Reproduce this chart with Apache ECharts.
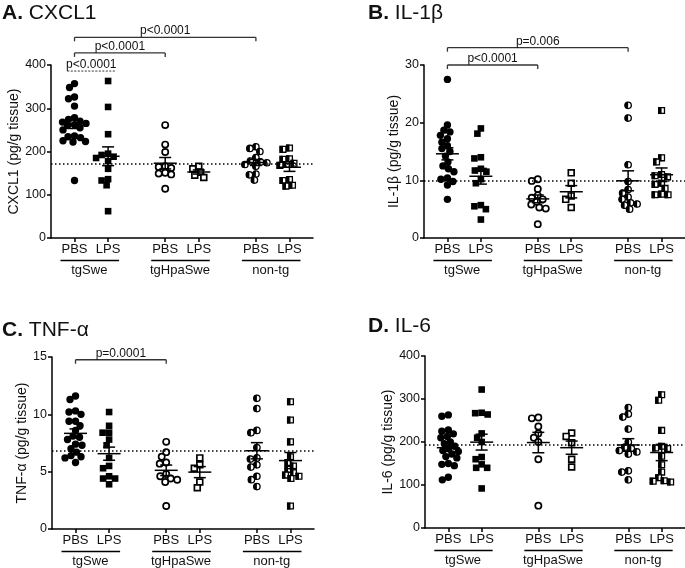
<!DOCTYPE html>
<html>
<head>
<meta charset="utf-8">
<script src="https://cdn.jsdelivr.net/npm/echarts@6/dist/echarts.min.js"></script>
<style>html,body{margin:0;padding:0;background:#fff;}#c{width:685px;height:568px;}</style>
</head>
<body>
<div id="c"></div>
<script>
// ---------- DATA ----------
const categories = ['PBS', 'LPS'];
const groups = ['tgSwe', 'tgHpaSwe', 'non-tg'];
const panelTitles = [['A.', 'CXCL1'], ['B.', 'IL-1β'], ['C.', 'TNF-α'], ['D.', 'IL-6']];
const yNames = ['CXCL1 (pg/g tissue)', 'IL-1β (pg/g tissue)', 'TNF-α (pg/g tissue)', 'IL-6 (pg/g tissue)'];
const yMaxes = [400, 30, 15, 400];
const yIntervals = [100, 10, 5, 100];
// order of groups: tgSwe PBS, tgSwe LPS, tgHpaSwe PBS, tgHpaSwe LPS, non-tg PBS, non-tg LPS
const cxcl1 = [
  [357, 348, 326, 322, 305, 278, 274, 270, 268, 265, 262, 260, 255, 250, 236, 234, 232, 225, 223, 222, 133],
  [363, 303, 240, 195, 192, 188, 185, 178, 160, 136, 133, 122, 62],
  [261, 216, 199, 166, 164, 162, 151, 149, 147, 114],
  [166, 160, 152, 145, 140],
  [211, 207, 200, 186, 178, 176, 174, 170, 166, 148, 146, 134],
  [208, 205, 183, 182, 173, 170, 168, 135, 133, 122, 120]
];
const il1b = [
  [27.5, 19.6, 18.7, 18.4, 17.8, 17.2, 16.6, 16.0, 15.5, 15.0, 14.2, 13.2, 12.5, 12.0, 11.5, 10.4, 10.2, 9.8, 9.2, 6.7],
  [19.0, 18.1, 14.0, 13.8, 12.0, 11.7, 11.5, 10.2, 9.5, 5.7, 5.5, 5.0, 3.2],
  [10.2, 9.9, 8.5, 7.4, 7.0, 6.7, 6.3, 5.8, 5.3, 5.1, 2.4],
  [11.3, 9.5, 7.3, 6.7, 5.3],
  [23.0, 20.8, 12.7, 9.8, 8.4, 7.8, 7.1, 6.7, 6.1, 5.9, 5.7, 5.0],
  [22.1, 13.9, 13.2, 11.0, 10.8, 10.6, 9.5, 9.3, 8.6, 7.6, 7.5, 7.5]
];
const tnfa = [
  [11.6, 11.3, 10.3, 10.2, 10.0, 9.4, 9.4, 9.0, 8.6, 8.1, 8.0, 7.8, 7.4, 7.3, 7.0, 6.7, 6.4, 6.3, 6.2, 5.8],
  [10.2, 9.0, 8.4, 8.4, 7.8, 7.3, 6.2, 5.5, 5.3, 4.6, 4.4, 4.4, 3.9],
  [7.6, 6.7, 6.3, 5.8, 5.7, 4.8, 4.6, 4.4, 4.3, 4.1, 2.0],
  [6.2, 5.6, 5.3, 4.1, 3.6],
  [11.4, 10.5, 8.6, 8.4, 7.1, 6.2, 6.1, 5.6, 5.4, 4.6, 4.3, 3.7],
  [11.1, 9.5, 7.6, 6.3, 5.8, 5.5, 5.2, 4.9, 4.7, 4.6, 4.4, 2.0]
];
const il6 = [
  [263, 260, 228, 225, 219, 213, 210, 200, 196, 190, 185, 180, 178, 172, 166, 163, 150, 148, 145, 118, 112],
  [322, 268, 267, 264, 220, 210, 200, 165, 160, 148, 140, 140, 92],
  [257, 255, 236, 220, 210, 200, 160, 52],
  [221, 213, 198, 160, 142],
  [280, 265, 258, 230, 200, 188, 185, 180, 177, 172, 133, 130, 112],
  [310, 297, 227, 190, 186, 185, 167, 147, 130, 117, 110, 109, 107]
];
const panelData = [cxcl1, il1b, tnfa, il6];
const refLines = [171, 10, 6.82, 193];
// significance brackets: [fromGroup, toGroup, yValue, label, dashedUnderline]
const bracketsA = [[0, 1, 386, 'p<0.0001', true], [0, 2, 428, 'p<0.0001', false], [0, 4, 464, 'p<0.0001', false]];
const bracketsB = [[0, 2, 30.0, 'p<0.0001', false], [0, 4, 33.0, 'p=0.006', false]];
const bracketsC = [[0, 2, 14.76, 'p=0.0001', false]];
const bracketsD = [];
const panelBrackets = [bracketsA, bracketsB, bracketsC, bracketsD];

// ---------- LAYOUT / STYLE ----------
const FONT = '"Liberation Sans", Arial, Helvetica, sans-serif';
const INK = '#111';
const XPOS = [0.7, 1.7, 3.4, 4.4, 6.1, 7.1];
const XMAX = 7.8;
const grids = [
  { left: 51, top: 65, width: 262, height: 173 },
  { left: 424, top: 65, width: 262, height: 173 },
  { left: 52, top: 357, width: 262, height: 172 },
  { left: 425, top: 356, width: 262, height: 172 }
];
const nameGaps = [28, 20, 20, 22];
const titlePos = [[2, 3], [368, 3], [2, 320], [368, 316]];
const MARKERS = ['circle', 'square', 'openCircle', 'openSquare', 'halfCircle', 'halfSquare'];
const DIAM = 7.0;      // drawn marker size
const SPACING = 6.2;   // collision distance for the scatter spread
const MAXOFF = 13;     // max horizontal spread (px) from the group centre

function mean(a) { return a.reduce((s, v) => s + v, 0) / a.length; }
function sem(a) {
  const m = mean(a);
  const sd = Math.sqrt(a.reduce((s, v) => s + (v - m) * (v - m), 0) / (a.length - 1));
  return sd / Math.sqrt(a.length);
}

function swarm(pys, d) {
  const idx = pys.map((_, i) => i).sort((a, b) => pys[a] - pys[b]);
  const offs = new Array(pys.length).fill(0);
  const placed = [];
  idx.forEach(i => {
    let best = 0, bestScore = -1, found = false;
    for (let k = 0; k <= MAXOFF * 4; k++) {
      const dx = (k % 2 === 0 ? 1 : -1) * Math.ceil(k / 2) * 0.5;
      let minD = Infinity;
      for (const j of placed) {
        const ddx = dx - offs[j], ddy = pys[i] - pys[j];
        minD = Math.min(minD, Math.sqrt(ddx * ddx + ddy * ddy));
      }
      if (minD >= d) { best = dx; found = true; break; }
      if (minD > bestScore) { bestScore = minD; best = dx; }
    }
    offs[i] = best;
    placed.push(i);
  });
  return offs;
}

function marker(kind, x, y) {
  const r = DIAM / 2;
  const lw = 1.7;
  switch (kind) {
    case 'circle':
      return { type: 'circle', shape: { cx: x, cy: y, r: r + 0.2 }, style: { fill: '#000' } };
    case 'square':
      return { type: 'rect', shape: { x: x - r + 0.2, y: y - r + 0.2, width: 2 * r - 0.4, height: 2 * r - 0.4 }, style: { fill: '#000' } };
    case 'openCircle':
      return { type: 'circle', shape: { cx: x, cy: y, r: r - 0.4 }, style: { fill: '#fff', stroke: '#000', lineWidth: lw } };
    case 'openSquare':
      return { type: 'rect', shape: { x: x - r + 0.6, y: y - r + 0.6, width: 2 * r - 1.2, height: 2 * r - 1.2 }, style: { fill: '#fff', stroke: '#000', lineWidth: lw } };
    case 'halfCircle':
      return { type: 'group', children: [
        { type: 'circle', shape: { cx: x, cy: y, r: r - 0.3 }, style: { fill: '#fff', stroke: '#000', lineWidth: 1.3 } },
        { type: 'sector', shape: { cx: x, cy: y, r0: 0, r: r, startAngle: Math.PI / 2, endAngle: Math.PI * 1.5, clockwise: true }, style: { fill: '#000' } }
      ] };
    default:
      return { type: 'group', children: [
        { type: 'rect', shape: { x: x - r + 0.6, y: y - r + 0.6, width: 2 * r - 1.2, height: 2 * r - 1.2 }, style: { fill: '#fff', stroke: '#000', lineWidth: 1.3 } },
        { type: 'rect', shape: { x: x - r, y: y - r, width: r, height: 2 * r }, style: { fill: '#000' } }
      ] };
  }
}

const swarmCache = {};
const option = {
  backgroundColor: '#fff',
  animation: false,
  title: [], grid: [], xAxis: [], yAxis: [], series: []
};

panelData.forEach((pdata, p) => {
  const g = grids[p];
  option.grid.push({ left: g.left, top: g.top, width: g.width, height: g.height });
  option.title.push({
    text: '{b|' + panelTitles[p][0] + '} ' + panelTitles[p][1],
    left: titlePos[p][0], top: titlePos[p][1], padding: 0,
    textStyle: { fontFamily: FONT, fontSize: 21, fontWeight: 'normal', color: INK,
      rich: { b: { fontFamily: FONT, fontSize: 21, fontWeight: 'bold', color: INK } } }
  });
  option.xAxis.push({
    gridIndex: p, type: 'value', min: 0, max: XMAX,
    axisLine: { show: true, onZero: false, lineStyle: { color: '#000', width: 1.5 } },
    axisTick: { show: true, length: 4, customValues: XPOS, lineStyle: { color: '#000', width: 1.5 } },
    axisLabel: { customValues: XPOS, fontFamily: FONT, fontSize: 13, color: INK, margin: 5,
      formatter: v => { const i = XPOS.findIndex(q => Math.abs(q - v) < 1e-6); return i < 0 ? '' : categories[i % 2]; } },
    splitLine: { show: false }
  });
  option.yAxis.push({
    gridIndex: p, type: 'value', min: 0, max: yMaxes[p], interval: yIntervals[p],
    name: yNames[p], nameLocation: 'middle', nameGap: nameGaps[p],
    nameTextStyle: { fontFamily: FONT, fontSize: 14, color: INK },
    axisLine: { show: true, lineStyle: { color: '#000', width: 1.5 } },
    axisTick: { show: true, length: 4, lineStyle: { color: '#000', width: 1.5 } },
    axisLabel: { fontFamily: FONT, fontSize: 12.5, color: INK, margin: 5 },
    splitLine: { show: false }
  });

  // points
  pdata.forEach((vals, gi) => {
    const key = p + '_' + gi;
    const kind = MARKERS[gi];
    option.series.push({
      type: 'custom', coordinateSystem: 'cartesian2d', xAxisIndex: p, yAxisIndex: p, z: 2,
      data: vals.map(v => [XPOS[gi], v]),
      renderItem: function (params, api) {
        if (!swarmCache[key]) {
          const pys = vals.map(v => api.coord([XPOS[gi], v])[1]);
          swarmCache[key] = swarm(pys, SPACING);
        }
        const c = api.coord([api.value(0), api.value(1)]);
        return marker(kind, c[0] + swarmCache[key][params.dataIndex], c[1]);
      }
    });
  });

  // mean ± SEM
  option.series.push({
    type: 'custom', coordinateSystem: 'cartesian2d', xAxisIndex: p, yAxisIndex: p, z: 5,
    data: pdata.map((vals, gi) => [XPOS[gi], mean(vals), sem(vals)]),
    renderItem: function (params, api) {
      const x = api.value(0), m = api.value(1), s = api.value(2);
      const c = api.coord([x, m]), top = api.coord([x, m + s]), bot = api.coord([x, m - s]);
      const st = { stroke: '#000', lineWidth: 1.5 };
      return { type: 'group', children: [
        { type: 'line', shape: { x1: c[0] - 11.5, y1: c[1], x2: c[0] + 11.5, y2: c[1] }, style: st },
        { type: 'line', shape: { x1: c[0], y1: top[1], x2: c[0], y2: bot[1] }, style: st },
        { type: 'line', shape: { x1: c[0] - 6, y1: top[1], x2: c[0] + 6, y2: top[1] }, style: st },
        { type: 'line', shape: { x1: c[0] - 6, y1: bot[1], x2: c[0] + 6, y2: bot[1] }, style: st }
      ] };
    },
    markLine: {
      silent: true, symbol: 'none', label: { show: false },
      lineStyle: { color: '#000', type: [1.5, 2.5], width: 1.5 },
      data: [{ yAxis: refLines[p] }]
    }
  });

  // group labels under axis
  option.series.push({
    type: 'custom', coordinateSystem: 'cartesian2d', xAxisIndex: p, yAxisIndex: p, z: 4,
    data: groups.map((_, k) => [XPOS[2 * k], XPOS[2 * k + 1]]),
    renderItem: function (params, api) {
      const a = api.coord([api.value(0), 0]), b = api.coord([api.value(1), 0]);
      const y0 = a[1];
      return { type: 'group', children: [
        { type: 'line', shape: { x1: a[0] - 14, y1: y0 + 22.5, x2: b[0] + 11, y2: y0 + 22.5 }, style: { stroke: '#000', lineWidth: 1.3 } },
        { type: 'text', style: { text: groups[params.dataIndex], x: (a[0] + b[0]) / 2 - 2, y: y0 + 32,
          align: 'center', verticalAlign: 'middle', fontFamily: FONT, fontSize: 13, fill: INK } }
      ] };
    }
  });

  // significance brackets
  const br = panelBrackets[p];
  if (br.length) {
    option.series.push({
      type: 'custom', coordinateSystem: 'cartesian2d', xAxisIndex: p, yAxisIndex: p, z: 6,
      data: br.map(b => [XPOS[b[0]], XPOS[b[1]], b[2]]),
      renderItem: function (params, api) {
        const b = br[params.dataIndex];
        const a = api.coord([api.value(0), api.value(2)]), e = api.coord([api.value(1), api.value(2)]);
        const y = a[1], cx = (a[0] + e[0]) / 2;
        const st = { stroke: '#333', lineWidth: 1.3 };
        const kids = [];
        if (b[4]) {
          kids.push({ type: 'line', shape: { x1: cx - 24, y1: y, x2: cx + 24, y2: y }, style: { stroke: '#333', lineWidth: 1, lineDash: [2, 1.5] } });
        } else {
          kids.push({ type: 'line', shape: { x1: a[0], y1: y, x2: e[0], y2: y }, style: st });
          kids.push({ type: 'line', shape: { x1: a[0], y1: y, x2: a[0], y2: y + 4 }, style: st });
          kids.push({ type: 'line', shape: { x1: e[0], y1: y, x2: e[0], y2: y + 4 }, style: st });
        }
        kids.push({ type: 'text', style: { text: b[3], x: cx, y: y - 0.5, align: 'center', verticalAlign: 'bottom',
          fontFamily: FONT, fontSize: 12, fill: INK } });
        return { type: 'group', children: kids };
      }
    });
  }
});

const chart = echarts.init(document.getElementById('c'), null, { renderer: 'canvas' });
chart.setOption(option);
</script>
</body>
</html>
